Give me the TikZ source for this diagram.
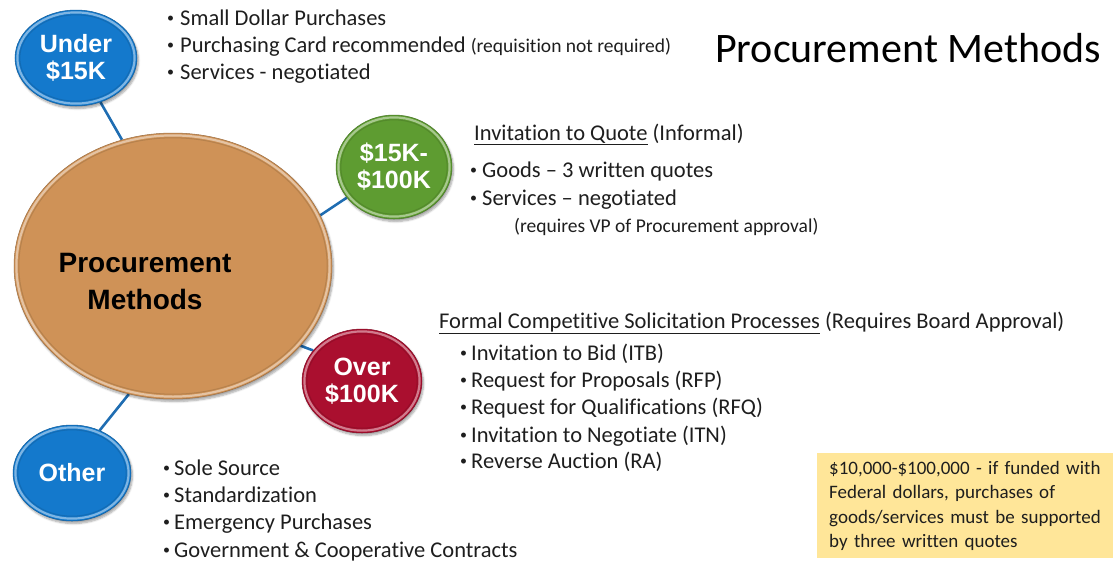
\documentclass[tikz,border=0pt]{standalone}
\usepackage{fontspec}
\setmainfont{Carlito}[Ligatures=NoCommon]
\newfontfamily\badgefont{Liberation Sans}
\usetikzlibrary{shapes.geometric,shadows.blur,calc,backgrounds}

\definecolor{ink}{HTML}{1E1E1E}
\definecolor{hubfill}{HTML}{CF9257}
\definecolor{bluebtn}{HTML}{1479CC}
\definecolor{greenbtn}{HTML}{5E9C31}
\definecolor{redbtn}{HTML}{AA0F2F}
\definecolor{linkblue}{HTML}{1F6DB2}
\definecolor{notefill}{HTML}{FFE699}

% ring drawn inside a button: colour, inset from the rim, line width
\newcommand{\bevelring}[3]{%
  \draw[#1, line width=#3]
    let \p1=(path picture bounding box.north east),
        \p2=(path picture bounding box.center)
    in (\p2) ellipse [x radius={\x1-\x2-#2}, y radius={\y1-\y2-#2}];}
% small bullet, then the text starts after the given width
\newcommand{\itemdot}[1]{\makebox[#1][l]{\hspace{1pt}\raisebox{2.2pt}{\fontsize{14}{14}\selectfont •}}}

\tikzset{
  button/.style={ellipse, inner sep=0pt, fill=#1, draw=#1!75!black, line width=0.5pt,
    blur shadow={shadow xshift=1.5pt, shadow yshift=-2.5pt, shadow blur steps=6, shadow opacity=35},
    path picture={\bevelring{#1!55!white}{2.4pt}{2.2pt}\bevelring{#1!88!black}{4.8pt}{1pt}}},
  badge/.style={text=white, font=\badgefont\bfseries\fontsize{25}{27}\selectfont, align=center},
  body/.style={text=ink, font=\fontsize{22.5}{27}\selectfont, anchor=base west, inner sep=0pt},
  small/.style={text=ink, font=\fontsize{19.5}{24}\selectfont, anchor=base west, inner sep=0pt},
  link/.style={linkblue, line width=2.6pt},
}

\begin{document}
\begin{tikzpicture}[x=1pt, y=-1pt]
\useasboundingbox (0,0) rectangle (1113,563);

% central hub and its four price bands
\node[button=hubfill, minimum width=318pt, minimum height=266pt] (hub) at (173,266) {};
\node[text=black, font=\badgefont\bfseries\fontsize{28}{37}\selectfont, align=center] (hubtext) at (145,281) {Procurement\\Methods};

\node[button=bluebtn, badge, minimum width=122pt, minimum height=96pt] (under) at (76,58) {Under\\\$15K};
\node[button=greenbtn, badge, minimum width=116pt, minimum height=104pt] (mid) at (394,167) {\$15K-\\\$100K};
\node[button=redbtn, badge, minimum width=120pt, minimum height=104pt] (over) at (362,381) {Over\\\$100K};
\node[button=bluebtn, badge, minimum width=118pt, minimum height=96pt] (other) at (72,473) {Other};

% connectors behind the buttons
\begin{scope}[on background layer]
  \draw[link] (hub.112) -- (under.299);
  \draw[link] (hub.19) -- (mid.213);
  \draw[link] (hub.328) -- (over.148);
  \draw[link] (hub.251) -- (other.57);
\end{scope}

% title
\node[text=black, font=\fontsize{42}{50}\selectfont, anchor=base west, inner sep=0pt] (title) at (715,62) {Procurement Methods};

% under $15K
\node[body] (u1) at (166,25) {\itemdot{14pt}Small Dollar Purchases};
\node[body] (u2) at (166,52) {\itemdot{14pt}Purchasing Card recommended {\fontsize{19.5}{24}\selectfont(requisition not required)}};
\node[body] (u3) at (166,79) {\itemdot{14pt}Services - negotiated};

% $15K - $100K
\node[body] (g0) at (474,140) {\underline{Invitation to Quote} (Informal)};
\node[body] (g1) at (469,177) {\itemdot{13pt}Goods – 3 written quotes};
\node[body] (g2) at (469,205) {\itemdot{13pt}Services – negotiated};
\node[small] (g3) at (514,232) {(requires VP of Procurement approval)};

% over $100K
\node[body] (f0) at (439,328) {\underline{Formal Competitive Solicitation Processes} (Requires Board Approval)};
\node[body] (f1) at (459,360) {\itemdot{12pt}Invitation to Bid (ITB)};
\node[body] (f2) at (459,387) {\itemdot{12pt}Request for Proposals (RFP)};
\node[body] (f3) at (459,414) {\itemdot{12pt}Request for Qualifications (RFQ)};
\node[body] (f4) at (459,442) {\itemdot{12pt}Invitation to Negotiate (ITN)};
\node[body] (f5) at (459,468) {\itemdot{12pt}Reverse Auction (RA)};

% other methods
\node[body] (o1) at (162,475) {\itemdot{12pt}Sole Source};
\node[body] (o2) at (162,502) {\itemdot{12pt}Standardization};
\node[body] (o3) at (162,529) {\itemdot{12pt}Emergency Purchases};
\node[body] (o4) at (162,557) {\itemdot{12pt}Government \& Cooperative Contracts};

% federal funding note
\node[fill=notefill, anchor=north west, minimum width=296pt, minimum height=105pt,
      inner xsep=12pt, inner ysep=0pt, text width=272pt, align=left, text=ink,
      font=\fontsize{19}{24.5}\selectfont] (note) at (817,453)
  {\$10,000-\$100,000 - if funded with\\Federal dollars, purchases of\\goods/services must be supported\\by three written quotes};
\end{tikzpicture}
\end{document}
